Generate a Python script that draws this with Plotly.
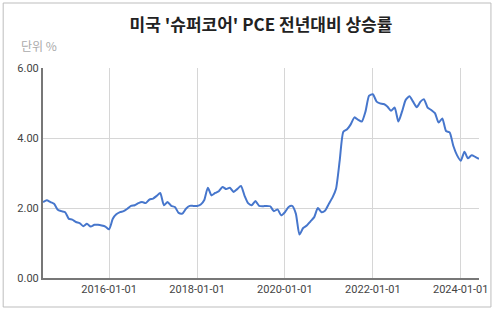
import plotly.graph_objects as go
import pandas as pd

dates = pd.date_range("2014-07-01", "2024-06-01", freq="MS").strftime("%Y-%m-%d").tolist()
values = [
    2.17, 2.22, 2.17, 2.12, 1.95, 1.91,
    1.88, 1.69, 1.67, 1.60, 1.57, 1.48, 1.55, 1.47, 1.52, 1.52, 1.50, 1.47,
    1.39, 1.69, 1.82, 1.88, 1.91, 1.98, 2.06, 2.08, 2.14, 2.17, 2.14, 2.24,
    2.27, 2.35, 2.43, 2.08, 2.17, 2.06, 2.03, 1.86, 1.84, 1.98, 2.06, 2.06,
    2.06, 2.10, 2.22, 2.58, 2.36, 2.43, 2.48, 2.60, 2.54, 2.58, 2.46, 2.54,
    2.63, 2.34, 2.14, 2.08, 2.20, 2.06, 2.05, 2.06, 2.05, 1.91, 1.96, 1.79,
    1.88, 2.03, 2.06, 1.84, 1.24, 1.43, 1.50, 1.62, 1.74, 2.00, 1.88, 1.93,
    2.12, 2.31, 2.55, 3.37, 4.18, 4.25, 4.39, 4.59, 4.52, 4.47, 4.76, 5.21,
    5.25, 5.04, 4.99, 4.97, 4.90, 4.78, 4.87, 4.47, 4.76, 5.09, 5.19, 5.04,
    4.88, 5.04, 5.11, 4.87, 4.80, 4.71, 4.44, 4.56, 4.20, 4.16, 3.77, 3.51,
    3.35, 3.61, 3.42, 3.51, 3.46, 3.40,
]
x_ticks = ["2016-01-01", "2018-01-01", "2020-01-01", "2022-01-01", "2024-01-01"]
y_ticks = [0, 2, 4, 6]
title = "미국 '슈퍼코어' PCE 전년대비 상승률"
unit_label = "단위 %"

W, H = 500, 312
ML, MR, MT, MB = 43, 19, 68, 34
PW, PH = W - ML - MR, H - MT - MB

def px(x):
    return (x - ML) / PW

def py(y):
    return 1 - (y - MT) / PH

fig = go.Figure()
fig.add_trace(go.Scatter(
    x=dates, y=values, mode="lines",
    line=dict(color="#4676cc", width=2, shape="spline", smoothing=0.6),
    hoverinfo="skip", showlegend=False,
))

fig.update_layout(
    width=W, height=H,
    margin=dict(l=ML, r=MR, t=MT, b=MB),
    paper_bgcolor="white", plot_bgcolor="white",
    font=dict(family="Roboto, 'Noto Sans CJK KR', sans-serif", size=11, color="#444"),
    title=dict(text="<b>" + title + "</b>", x=0.5, xref="paper", xanchor="center",
               y=1 - 25 / H, yref="container", yanchor="middle",
               font=dict(family="'Noto Sans CJK KR', sans-serif", size=17, color="#222")),
    xaxis=dict(
        type="date", range=["2014-07-01", "2024-06-01"],
        tickmode="array", tickvals=x_ticks, ticktext=x_ticks,
        showgrid=True, gridcolor="#d6d6d6", gridwidth=1,
        showline=True, linecolor="#777", linewidth=2,
        ticks="", tickfont=dict(size=11, color="#444"),
        zeroline=False,
    ),
    yaxis=dict(
        range=[0, 6], tickmode="array", tickvals=y_ticks,
        ticktext=[f"{v:.2f}" for v in y_ticks],
        showgrid=True, gridcolor="#d6d6d6", gridwidth=1,
        showline=True, linecolor="#777", linewidth=2,
        ticks="", tickfont=dict(size=11, color="#444"), zeroline=False,
    ),
    annotations=[dict(
        text=unit_label, xref="paper", yref="paper",
        x=px(19), y=py(46), xanchor="left", yanchor="middle", showarrow=False,
        font=dict(family="'Noto Sans CJK KR', sans-serif", size=12, color="#aaa"),
    )],
    shapes=[dict(
        type="rect", xref="paper", yref="paper",
        x0=px(3), x1=px(493), y0=py(3), y1=py(307),
        line=dict(color="#bdbdbd", width=1), layer="below",
    )],
)

fig.write_html("out.html")
